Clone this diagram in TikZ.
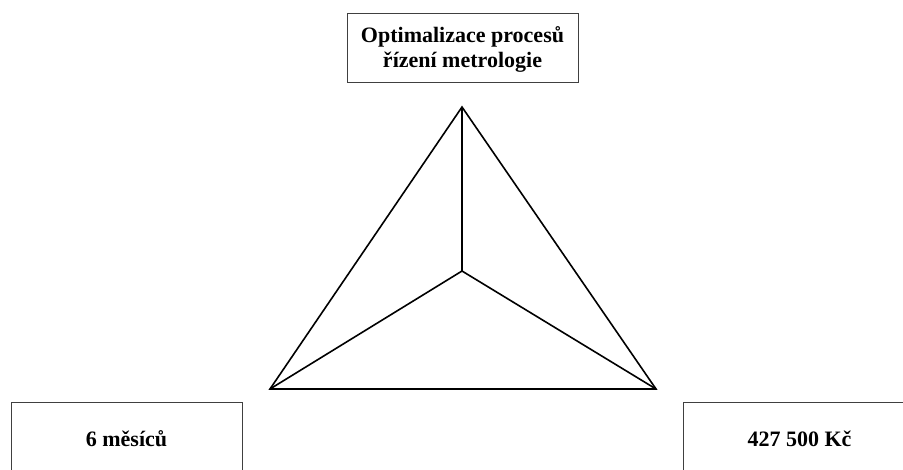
\documentclass[tikz,border=0pt]{standalone}
\usepackage{fontspec}
\setmainfont{Liberation Serif}
\begin{document}
\begin{tikzpicture}[x=1pt,y=-1pt,
  labelbox/.style={draw=black!75, line width=0.9pt, minimum width=231pt, inner sep=0pt},
  labeltext/.style={align=center, font=\bfseries\fontsize{22}{25}\selectfont, inner sep=0pt},
  edge/.style={line width=1.6pt, line join=miter}]
  \useasboundingbox (0,0) rectangle (903,469);
  \clip (0,0) rectangle (903,469);
  % text boxes (frames and their labels)
  \node[labelbox, minimum height=69pt] (goal) at (462.5,47.5) {};
  \node[labeltext] (goaltext) at (462.5,49) {Optimalizace procesů\\řízení metrologie};
  \node[labelbox, minimum height=86pt] (time) at (126.5,445) {};
  \node[labeltext] (timetext) at (126.5,438.5) {6 měsíců};
  \node[labelbox, minimum height=86pt] (cost) at (798.5,445) {};
  \node[labeltext] (costtext) at (799.5,438.5) {427 500 Kč};
  % triangle vertices and centre
  \coordinate (top) at (462,107);
  \coordinate (bl) at (270,389);
  \coordinate (br) at (656,389);
  \coordinate (mid) at (462,271);
  \draw[edge] (top) -- (br) -- (bl) -- cycle;
  \draw[edge] (mid) -- (top);
  \draw[edge] (mid) -- (bl);
  \draw[edge] (mid) -- (br);
\end{tikzpicture}
\end{document}
